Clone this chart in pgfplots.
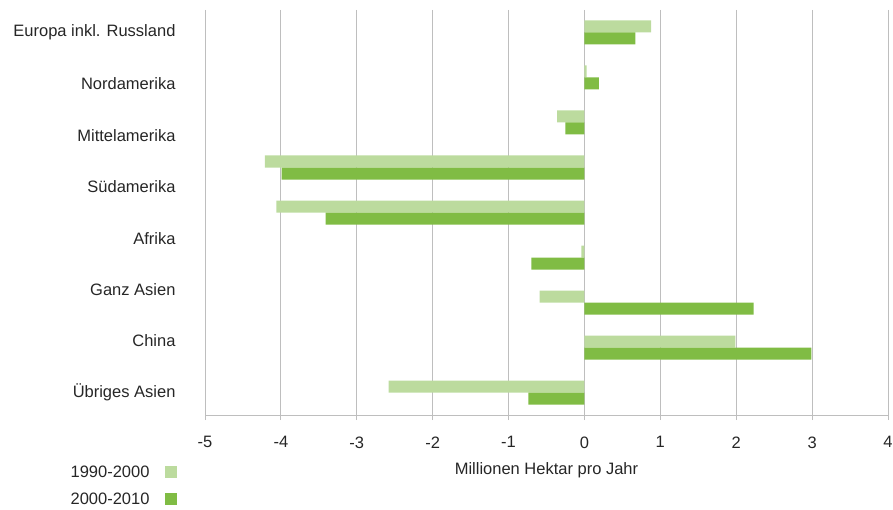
\documentclass[border=0pt]{standalone}
\usepackage{pgfplots}
\pgfplotsset{compat=1.18}
\usepackage{fontspec}
\setmainfont{Liberation Sans}
\definecolor{lightg}{RGB}{188,219,158}
\definecolor{darkg}{RGB}{128,188,68}
\definecolor{gridg}{RGB}{190,190,190}
\begin{document}
\begin{tikzpicture}
\useasboundingbox (0pt,0pt) rectangle (893pt,510pt);
\begin{axis}[
  at={(205pt,95pt)}, anchor=south west,
  scale only axis, width=683pt, height=405pt,
  xmin=-5, xmax=4, ymin=-0.5, ymax=8.5,
  y dir=reverse,
  xtick={-5,-4,...,4},
  ytick={0,1.142857,2.285714,3.428571,4.571429,5.714286,6.857143,8},
  yticklabels={Europa inkl. Russland,Nordamerika,Mittelamerika,Südamerika,Afrika,Ganz Asien,China,Übriges Asien},
  axis y line*=left,
  y axis line style={draw=none},
  axis x line*=bottom,
  x axis line style={gridg, line width=1pt},
  xtick style={gridg, line width=1pt},
  ytick style={draw=none},
  tick align=outside, major tick length=5pt,
  xmajorgrids, major grid style={gridg, line width=1pt},
  font=\fontsize{16.5}{19}\selectfont,
  tick label style={font=\fontsize{16.5}{19}\selectfont, text=black!85},
  /pgf/number format/assume math mode=true,
  xticklabel style={yshift=-13pt},
  yticklabel style={anchor=east, xshift=-21pt},
  xlabel={Millionen Hektar pro Jahr},
  xlabel style={at={(axis description cs:0.5,0)}, anchor=center, yshift=-55pt, text=black!85},
  xbar, bar width=12pt,
  clip=false,
  legend style={at={(axis description cs:-0.04,-0.12)}, anchor=north east, draw=none, fill=none,
    font=\fontsize{16.5}{19}\selectfont, text=black!85, row sep=10pt, inner sep=0pt},
  legend plot pos=right,
  legend cell align=right,
  legend image code/.code={\path (0pt,0pt); \fill[#1] (14pt,-6pt) rectangle (26pt,6pt);},
]
\addplot[fill=lightg, draw=none, bar shift=6pt] coordinates {
(0.877,0) (0.03,1) (-0.36,2) (-4.21,3) (-4.06,4) (-0.04,5) (-0.59,6) (1.99,7) (-2.58,8)};
\addplot[fill=darkg, draw=none, bar shift=-6pt] coordinates {
(0.67,0) (0.19,1) (-0.25,2) (-3.99,3) (-3.41,4) (-0.70,5) (2.23,6) (2.99,7) (-0.74,8)};
\legend{1990-2000,2000-2010}
\end{axis}
\end{tikzpicture}
\end{document}
